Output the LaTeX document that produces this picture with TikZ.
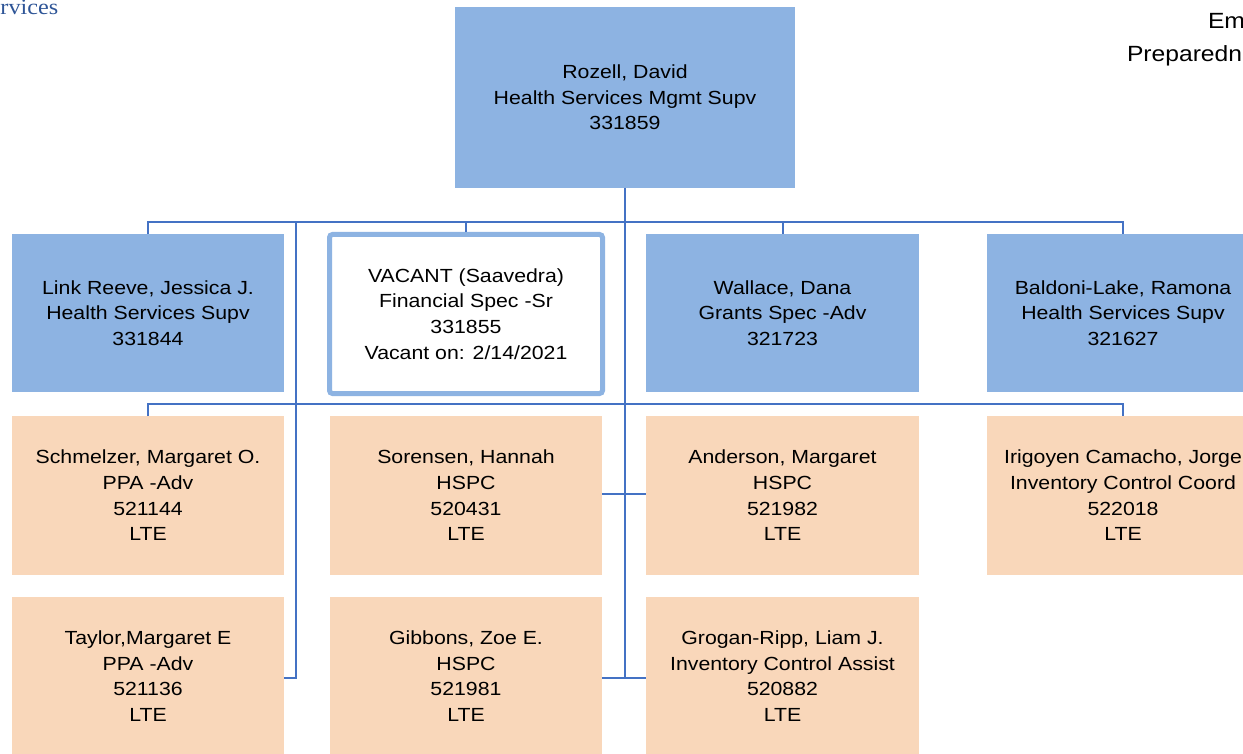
\documentclass[tikz,border=0pt]{standalone}
\usepackage{fontspec}
\setmainfont{Liberation Sans}[FakeStretch=1.12]
\newfontfamily\serifhead{Liberation Serif}[FakeStretch=1.1]
\definecolor{boxblue}{HTML}{8DB3E2}
\definecolor{boxorange}{HTML}{F9D7BA}
\definecolor{connblue}{HTML}{4472C4}
\definecolor{headblue}{HTML}{2E5597}
\tikzset{
  box/.style={draw=none, minimum width=272pt, minimum height=158pt, inner sep=0pt, outer sep=0pt,
    align=center, font=\fontsize{19}{25.7}\selectfont, text=black},
  bluebox/.style={box, fill=boxblue},
  orangebox/.style={box, fill=boxorange, minimum height=159pt},
  vacbox/.style={box, fill=white, draw=boxblue, line width=5pt, rounded corners=3pt,
    minimum width=273pt, minimum height=159pt, outer sep=2.5pt},
  conn/.style={draw=connblue, line width=2pt},
  headtext/.style={anchor=base west, inner sep=0pt, outer sep=0pt}
}
\begin{document}
\begin{tikzpicture}[x=1pt,y=-1pt]
\useasboundingbox (0,0) rectangle (1243,754);
\clip (0,0) rectangle (1243,754);

% header texts
\node[headtext, font=\serifhead\fontsize{22}{27}\selectfont, text=headblue] (hl) at (0.5,15) {rvices};
\node[headtext, font=\fontsize{22}{27}\selectfont] (hr1) at (1208,29) {Em};
\node[headtext, font=\fontsize{22}{27}\selectfont] (hr2) at (1127,62) {Preparedn};

% top
\node[bluebox, minimum width=340pt, minimum height=181pt] (top) at (625,97.5) {Rozell, David\\Health Services Mgmt Supv\\331859};

% row 1
\node[bluebox] (s1) at (148,313) {Link Reeve, Jessica J.\\Health Services Supv\\331844};
\node[vacbox] (s2) at (466,314) {VACANT (Saavedra)\\Financial Spec -Sr\\331855\\Vacant on: 2/14/2021};
\node[bluebox, minimum width=273pt] (s3) at (782.5,313) {Wallace, Dana\\Grants Spec -Adv\\321723};
\node[bluebox] (s4) at (1123,313) {Baldoni-Lake, Ramona\\Health Services Supv\\321627};

% row 2
\node[orangebox] (e1) at (148,495.5) {Schmelzer, Margaret O.\\PPA -Adv\\521144\\LTE};
\node[orangebox] (e2) at (466,495.5) {Sorensen, Hannah\\HSPC\\520431\\LTE};
\node[orangebox, minimum width=273pt] (e3) at (782.5,495.5) {Anderson, Margaret\\HSPC\\521982\\LTE};
\node[orangebox] (e4) at (1123,495.5) {Irigoyen Camacho, Jorge\\Inventory Control Coord\\522018\\LTE};

% row 3
\node[orangebox] (f1) at (148,676) {Taylor,Margaret E\\PPA -Adv\\521136\\LTE};
\node[orangebox] (f2) at (466,676) {Gibbons, Zoe E.\\HSPC\\521981\\LTE};
\node[orangebox, minimum width=273pt] (f3) at (782.5,676) {Grogan-Ripp, Liam J.\\Inventory Control Assist\\520882\\LTE};

% connectors
\coordinate (b1) at (625,222);
\coordinate (b2) at (296,222);
\coordinate (b3) at (625,404);
\coordinate (tend) at (625,678);
\draw[conn] (top.south) -- (tend);
\draw[conn] (s1.north) |- (b1) -| (s4.north);
\draw[conn] (s2.north) -- (s2.north |- b1);
\draw[conn] (s3.north) -- (s3.north |- b1);
\draw[conn] (f1.east |- tend) -| (b2);
\draw[conn] (e1.north) |- (b3) -| (e4.north);
\draw[conn] (e2.east |- 0,494) -- (e3.west |- 0,494);
\draw[conn] (f2.east |- tend) -- (f3.west |- tend);
\end{tikzpicture}
\end{document}
